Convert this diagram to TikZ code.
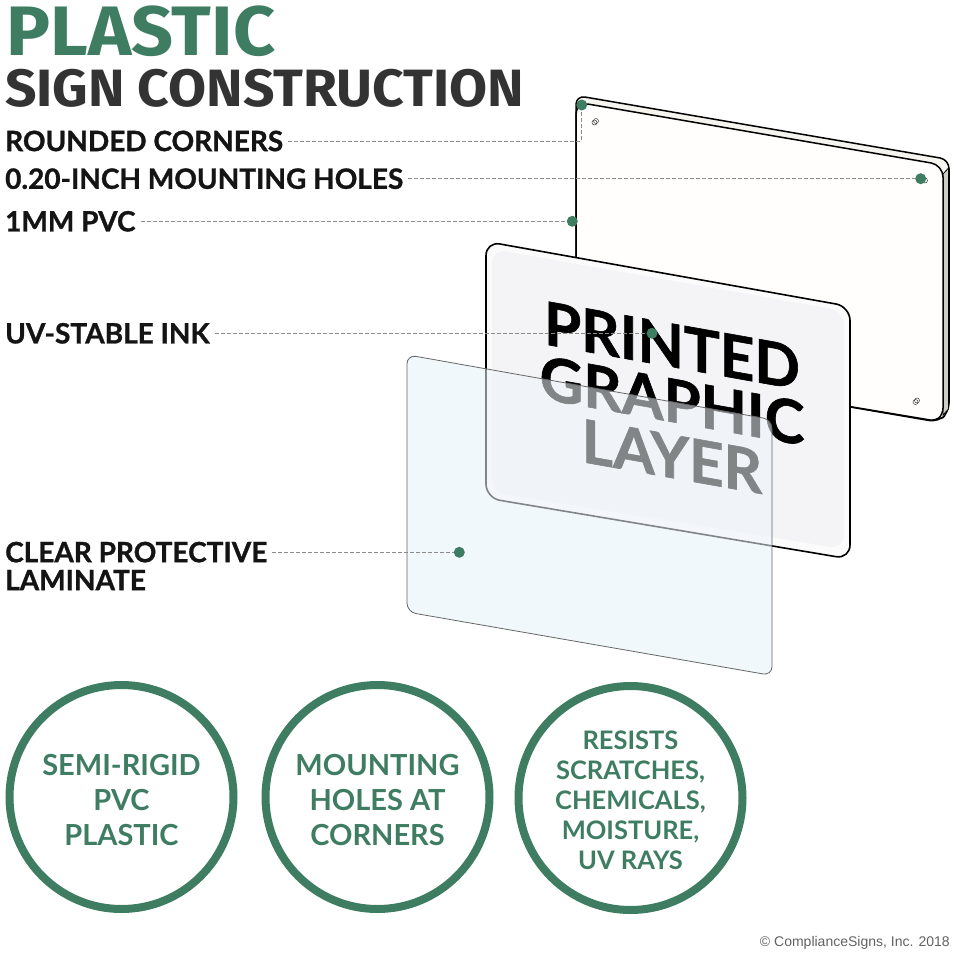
\documentclass[tikz,border=0pt]{standalone}
\usepackage{fontspec}
\setmainfont{Lato}
\newfontfamily\titlefont[FakeStretch=1.05]{Fira Sans}
\newfontfamily\heavyfont[FakeBold=1]{Lato}
\newfontfamily\notefont{Liberation Sans}
\definecolor{signgreen}{HTML}{3F7D63}
\definecolor{titlegray}{HTML}{333333}
\definecolor{cleartint}{HTML}{F5FFFF}
\definecolor{clearfilm}{HTML}{EEF3F9}
\begin{document}
\begin{tikzpicture}[x=1pt,y=-1pt]

	\tikzset{dot/.style={circle, inner sep=0pt, minimum size=11pt, fill=signgreen}}
	\tikzset{leader/.style={draw=black!45, dash pattern=on 4pt off 2pt, line width=.6pt}}
	\tikzset{callout/.style={anchor=west, inner sep=5pt, text=black!92, font=\heavyfont\bfseries\fontsize{28}{28}\selectfont}}
	\tikzset{badge/.style={circle, draw=signgreen, line width=8pt, minimum size=224pt, inner sep=0pt}}
	\tikzset{badgetext/.style={inner sep=0pt, align=center, text=signgreen, font=\bfseries\fontsize{29}{35}\selectfont}}
	\tikzset{printed/.style={anchor=base, inner sep=0pt, transform shape, yslant=-.178, font=\heavyfont\bfseries\fontsize{60}{60}\selectfont}}
	\tikzset{hole/.style={circle, draw=black!75, line width=.5pt, inner sep=0pt, minimum size=5pt}}
	\tikzset{clearshape/.style={rounded corners=9pt}}
	\useasboundingbox (0,0) rectangle (954,953);
% Titles
	\node[anchor=base west, inner sep=0pt, text=signgreen, font=\titlefont\bfseries\fontsize{70}{70}\selectfont] (t1) at (6,55) {PLASTIC};
	\node[anchor=base west, inner sep=0pt, text=titlegray, font=\titlefont\bfseries\fontsize{52.5}{52}\selectfont] (t2) at (5,106) {SIGN CONSTRUCTION};
% Panels
	%Back panel
		\fill[fill={rgb,255:red,245;green,244;blue,238}, draw=black, line width=1.5pt, rounded corners=9pt] (576,300) -- (576,95.5) -- (949,159.5) -- (949,412) -- (938,422) -- (576,360) -- cycle;
		\fill[fill={rgb,255:red,205;green,205;blue,198}, draw=black, line width=.8pt] (943,174) -- (948.5,168) -- (948.5,409) -- (943,415) -- cycle;
		\fill[fill={rgb,255:red,255;green,254;blue,252}, rounded corners=12pt] (576,102) -- (943,165) -- (943,421) -- (576,359) -- cycle;
		\draw[line width=1.5pt, rounded corners=12pt] (576,300) -- (576,102) -- (943,165) -- (943,300);
		\draw[line width=1.5pt, rounded corners=6pt] (943,300) -- (943,414) -- (936,421) -- (840,405);
		\node[hole] (h1) at (594.5,122.5) {};
		\node[hole] (h2) at (596,121) {};
		\node[hole] (h3) at (925,180.5) {};
		\node[hole] (h4) at (915.5,402) {};
		\node[hole] (h5) at (917,400.5) {};
	%Clear panel, tint
		\fill[cleartint, clearshape] (407,354.8) -- (772,419.6) -- (772,675.5) -- (407,612) -- cycle;
	%Printed panel
		\fill[fill={rgb,255:red,251;green,251;blue,252}, draw=black, line width=1.6pt, rounded corners=14pt] (486,241.5) -- (850,306.5) -- (850,559) -- (486,498) -- cycle;
		\fill[fill={rgb,255:red,244;green,244;blue,247}, rounded corners=14pt] (492,249) -- (844,311) -- (844,549) -- (492,492) -- cycle;
		\node[printed] (p1) at (672,367) {PRINTED};
		\node[printed] (p2) at (672,422) {GRAPHIC};
		\node[printed] (p3) at (672,478) {LAYER};
	%Clear panel, film
		\fill[fill=clearfilm, fill opacity=.55, draw=black!60, line width=.8pt, clearshape] (407,354.8) -- (772,419.6) -- (772,675.5) -- (407,612) -- cycle;
% Callouts
	\node[callout] (l1) at (0,141) {ROUNDED CORNERS};
	\node[callout] (l2) at (0,178.7) {0.20-INCH MOUNTING HOLES};
	\node[callout] (l3) at (0,221.3) {1MM PVC};
	\node[callout] (l4) at (0,333.3) {UV-STABLE INK};
	\node[callout, align=left] (l5) at (0,566) {CLEAR PROTECTIVE\\LAMINATE};
% Dots
	\node[dot] (d1) at (581.7,105) {};
	\node[dot] (d2) at (920.7,178.7) {};
	\node[dot] (d3) at (572.3,221.3) {};
	\node[dot] (d4) at (652,333.3) {};
	\node[dot] (d5) at (459.3,552.3) {};
% Leaders
	\draw[leader] (l1) -| (d1);
	\path[leader] (l2) edge node {} (d2);
	\path[leader] (l3) edge node {} (d3);
	\path[leader] (l4) edge node {} (d4);
	\draw[leader] (l5.east |- d5) -- (d5);
% Badges
	\node[badge] (b1) at (121.5,797) {};
	\node[badge] (b2) at (377.5,797) {};
	\node[badge] (b3) at (630.5,798) {};
	\node[badgetext] (n1) at ([yshift=-3pt]b1) {SEMI-RIGID\\PVC\\PLASTIC};
	\node[badgetext] (n2) at ([yshift=-3pt]b2) {MOUNTING\\HOLES AT\\CORNERS};
	\node[badgetext, font=\bfseries\fontsize{25.5}{30}\selectfont] (n3) at ([yshift=-2pt]b3) {RESISTS\\SCRATCHES,\\CHEMICALS,\\MOISTURE,\\UV RAYS};
% Credit
	\node[anchor=east, inner sep=0pt, text=black!62, font=\notefont\fontsize{14}{14}\selectfont] (c1) at (950,943) {© ComplianceSigns, Inc. 2018};

\end{tikzpicture}
\end{document}
